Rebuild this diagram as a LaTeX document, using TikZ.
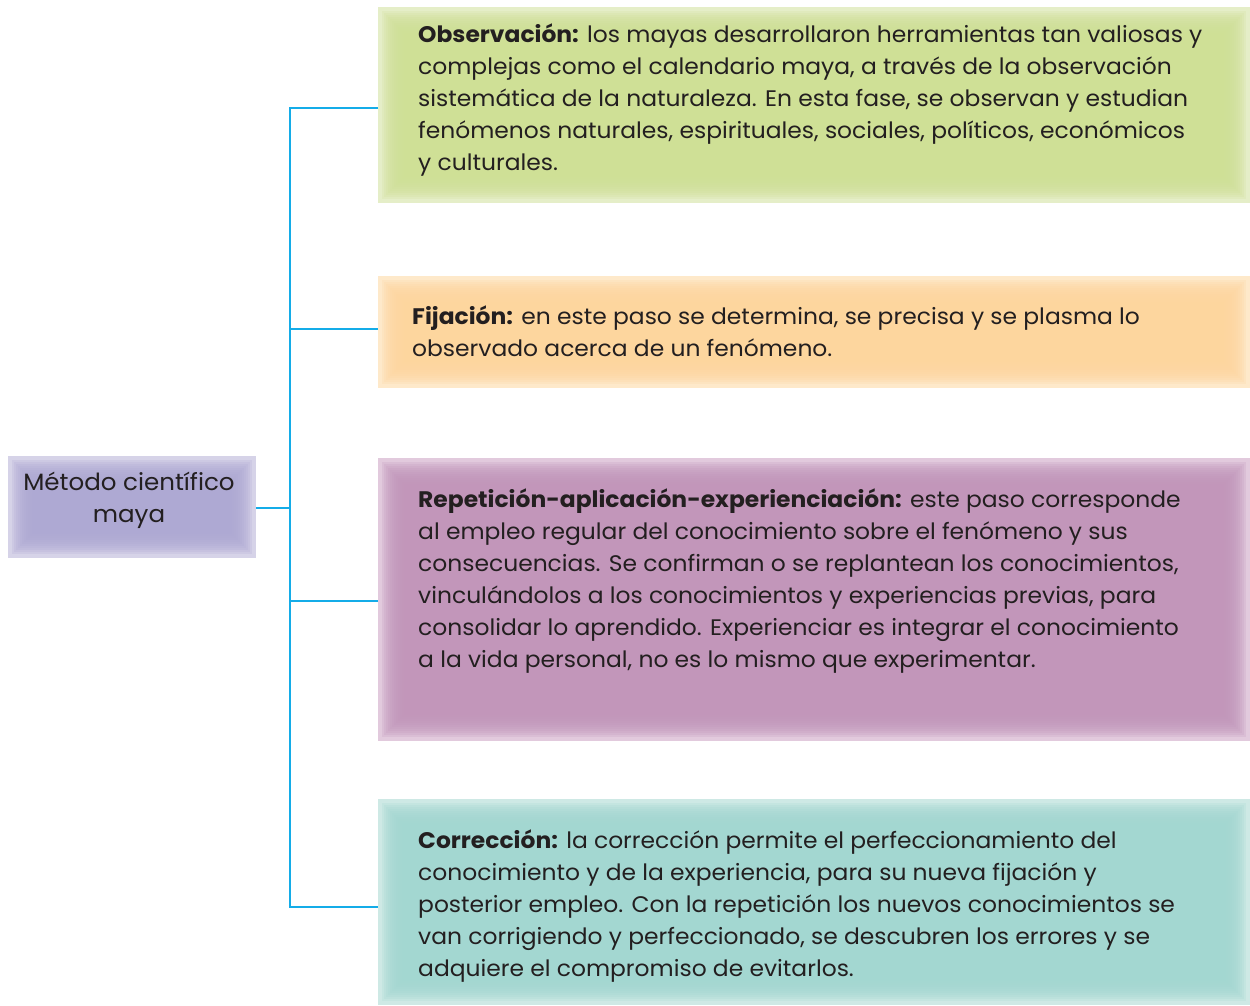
\documentclass[tikz,border=0pt]{standalone}
\usepackage{fontspec}
\setmainfont[FakeStretch=1.04]{Poppins}
\definecolor{txt}{RGB}{35,31,32}
\definecolor{conn}{RGB}{20,172,232}
\definecolor{grD}{RGB}{207,224,150}\definecolor{grL}{RGB}{229,238,200}
\definecolor{orD}{RGB}{253,214,158}\definecolor{orL}{RGB}{254,233,202}
\definecolor{mvD}{RGB}{194,150,186}\definecolor{mvL}{RGB}{226,202,221}
\definecolor{tlD}{RGB}{163,215,209}\definecolor{tlL}{RGB}{206,233,229}
\definecolor{puD}{RGB}{174,169,211}\definecolor{puL}{RGB}{214,211,232}
\begin{document}
\begin{tikzpicture}[x=1pt,y=-1pt,
  bevel/.style 2 args={rectangle, inner sep=0pt, draw=none, fill=#2, anchor=north west,
    path picture={
      \foreach \i in {4,6,...,26}{
        \fill[#1,opacity=0.22] ([shift={(\i,\i)}]path picture bounding box.north west) rectangle ([shift={(-\i,-\i)}]path picture bounding box.south east);}
    }},
  body/.style={anchor=west, align=left, inner sep=0pt, text=txt, font=\fontsize{22.5}{32}\selectfont},
  link/.style={draw=conn, line width=1.6pt}]
\useasboundingbox[fill=white] (0,0) rectangle (1250,1005);
% boxes
\node[bevel={puD}{puL}, minimum width=248pt, minimum height=102pt] (mcm) at (8,456) {};
\node[bevel={grD}{grL}, minimum width=872pt, minimum height=196pt] (obs) at (378,7) {};
\node[bevel={orD}{orL}, minimum width=872pt, minimum height=112pt] (fij) at (378,276) {};
\node[bevel={mvD}{mvL}, minimum width=872pt, minimum height=283pt] (rep) at (378,458) {};
\node[bevel={tlD}{tlL}, minimum width=872pt, minimum height=206pt] (cor) at (378,799) {};
% texts
\node[align=center, inner sep=0pt, text=txt, font=\fontsize{23.6}{32}\selectfont] (mcmt) at (129,500) {Método científico\\maya};
\node[body] (obst) at (418,100) {\textbf{Observación:} los mayas desarrollaron herramientas tan valiosas y\\complejas como el calendario maya, a través de la observación\\sistemática de la naturaleza. En esta fase, se observan y estudian\\fenómenos naturales, espirituales, sociales, políticos, económicos\\y culturales.};
\node[body] (fijt) at (412,331) {\textbf{Fijación:} en este paso se determina, se precisa y se plasma lo\\observado acerca de un fenómeno.};
\node[body] (rept) at (418,581) {\textbf{Repetición-aplicación-experienciación:} este paso corresponde\\al empleo regular del conocimiento sobre el fenómeno y sus\\consecuencias. Se confirman o se replantean los conocimientos,\\vinculándolos a los conocimientos y experiencias previas, para\\consolidar lo aprendido. Experienciar es integrar el conocimiento\\a la vida personal, no es lo mismo que experimentar.};
\node[body] (cort) at (418,906) {\textbf{Corrección:} la corrección permite el perfeccionamiento del\\conocimiento y de la experiencia, para su nueva fijación y\\posterior empleo. Con la repetición los nuevos conocimientos se\\van corrigiendo y perfeccionado, se descubren los errores y se\\adquiere el compromiso de evitarlos.};
% connectors
\coordinate (trunk) at (290,0);
\draw[link] ([yshift=-1pt]mcm.east) -- ([yshift=-1pt]mcm.east -| trunk);
\draw[link] ([yshift=-3pt]obs.west) -- ([yshift=-3pt]obs.west -| trunk) -- ([yshift=-5pt]cor.west -| trunk) -- ([yshift=-5pt]cor.west);
\draw[link] ([yshift=3pt]fij.west) -- ([yshift=3pt]fij.west -| trunk);
\draw[link] ([yshift=-1.5pt]rep.west) -- ([yshift=-1.5pt]rep.west -| trunk);
\end{tikzpicture}
\end{document}
